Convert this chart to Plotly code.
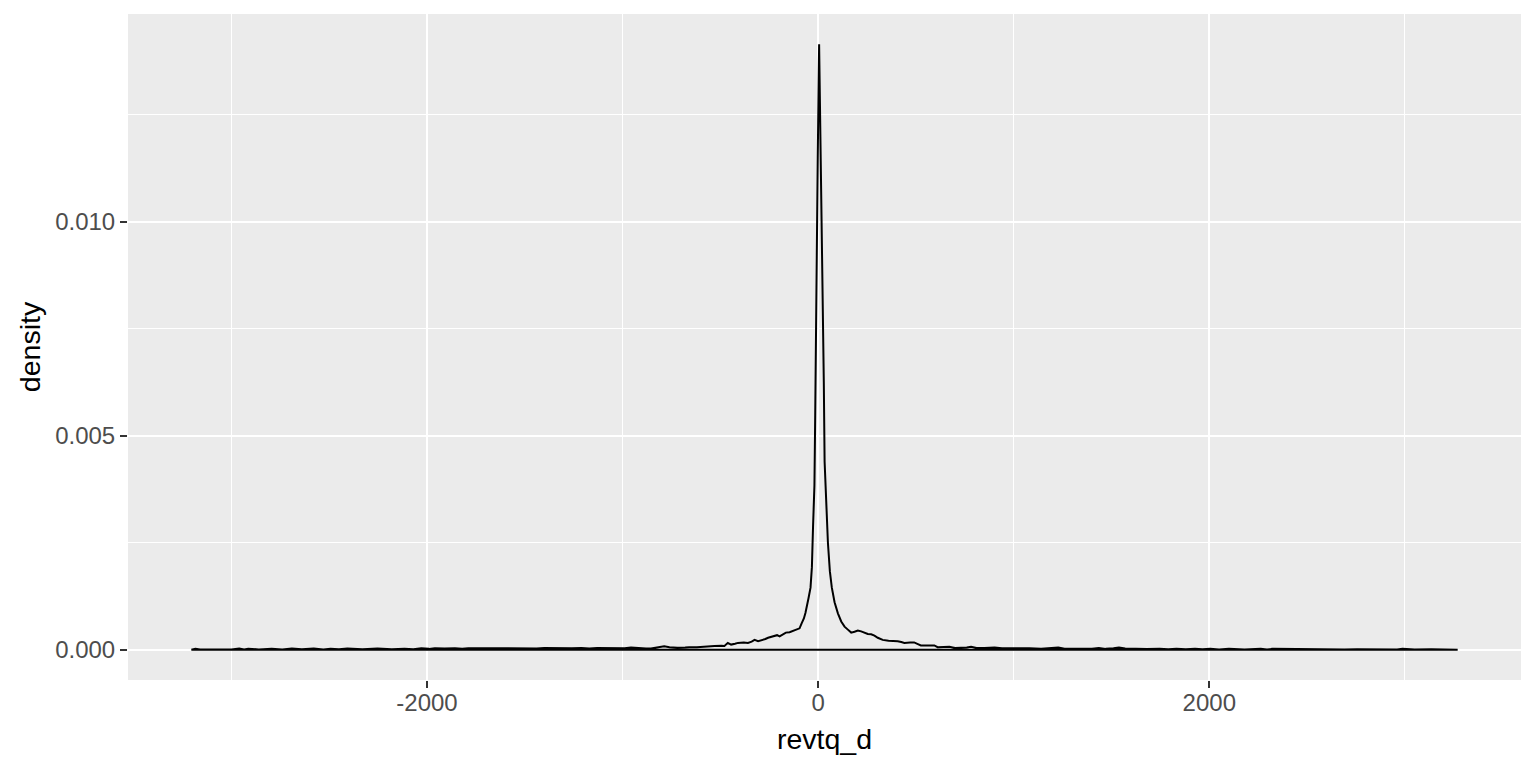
import plotly.graph_objects as go

# Kernel density estimate of revtq_d
revtq_d = [
    -3205, -3184, -3160, -3080, -3000, -2960, -2935, -2914, -2860, -2794,
    -2740, -2691, -2640, -2579, -2530, -2493, -2450, -2407, -2330, -2253,
    -2180, -2115, -2070, -2029, -1990, -1960, -1910, -1857, -1820, -1789,
    -1720, -1680, -1640, -1580, -1540, -1490, -1440, -1400, -1350, -1310,
    -1260, -1210, -1170, -1130, -1090,
    -1059, -1020, -990, -957, -920, -880, -855, -820, -787, -760,
    -720, -680, -659, -620, -599, -560, -530, -495, -479, -462,
    -445, -425, -410, -380, -359, -340, -325, -307, -290, -270,
    -256, -240, -222, -210, -197, -180, -165, -146, -130, -112,
    -95, -85, -73, -65, -59, -53, -49, -39, -32, -26,
    -19, -15, -12, -8, -2, 5, 12, 19, 26, 29,
    33, 39, 45, 50, 60, 70, 84, 101, 118, 135,
    152, 169, 186, 203, 220, 237, 254, 271, 288, 305,
    330, 360, 390, 407, 425, 441, 470, 491, 510, 525,
    560, 594, 611, 640, 671, 700, 731, 760, 782, 810,
    850, 880, 902, 940, 980, 1020, 1080, 1140, 1190, 1228,
    1260, 1330, 1400, 1435, 1470, 1510, 1538, 1570, 1620, 1680,
    1746, 1790, 1832, 1880, 1927, 1965, 2005, 2050, 2100, 2180,
    2263, 2295, 2324, 2367, 2400, 2445, 2510, 2574, 2600, 2626,
    2690, 2755, 2820, 2885, 2910, 2928, 2960, 2988, 3050, 3135,
    3200, 3270,
]

density = [
    0.2e-5, 2.5e-5, 0.8e-5, 0.5e-5, 0.6e-5, 2.6e-5, 0.8e-5, 2.4e-5, 0.6e-5, 2.0e-5,
    0.8e-5, 3.0e-5, 0.9e-5, 2.6e-5, 0.8e-5, 2.2e-5, 1.0e-5, 3.0e-5, 1.2e-5, 2.8e-5,
    1.3e-5, 2.2e-5, 1.2e-5, 3.2e-5, 2.0e-5, 3.4e-5, 2.6e-5, 3.6e-5, 2.4e-5, 3.6e-5,
    3.4e-5, 2.6e-5, 3.8e-5, 3.5e-5, 2.6e-5, 3.8e-5, 3.0e-5, 4.0e-5, 3.2e-5, 4.2e-5,
    3.4e-5, 4.0e-5, 3.0e-5, 4.2e-5, 3.6e-5,
    4e-5, 3e-5, 3.5e-5, 5e-5, 3.5e-5, 3e-5, 3e-5, 5e-5, 8e-5, 6e-5,
    4.5e-5, 5e-5, 6e-5, 6e-5, 7e-5, 8e-5, 9e-5, 9.5e-5, 9e-5, 16e-5,
    12e-5, 14e-5, 16e-5, 17e-5, 16e-5, 19e-5, 23e-5, 20e-5, 22e-5, 25e-5,
    28e-5, 30e-5, 33e-5, 34e-5, 31e-5, 36e-5, 40e-5, 41e-5, 44e-5, 46e-5,
    50e-5, 61e-5, 73e-5, 86e-5, 97e-5, 115e-5, 121e-5, 145e-5, 193e-5, 289e-5,
    384e-5, 548e-5, 710e-5, 880e-5, 1150e-5, 1415e-5, 1211e-5, 1007e-5, 806e-5, 624e-5,
    440e-5, 375e-5, 308e-5, 250e-5, 183e-5, 145e-5, 111e-5, 85e-5, 66e-5, 54e-5,
    47e-5, 40e-5, 42e-5, 45e-5, 43e-5, 40e-5, 37e-5, 36e-5, 33e-5, 28e-5,
    23e-5, 21e-5, 21e-5, 20e-5, 18e-5, 16e-5, 17e-5, 17e-5, 13e-5, 10e-5,
    10e-5, 10e-5, 6e-5, 6e-5, 7e-5, 4e-5, 4e-5, 5e-5, 7e-5, 4e-5,
    4e-5, 5e-5, 5e-5, 3.5e-5, 4e-5, 3e-5, 3.5e-5, 2.5e-5, 3e-5, 5e-5,
    2.5e-5, 2e-5, 2.5e-5, 4e-5, 2e-5, 3.5e-5, 5e-5, 3e-5, 2e-5, 1.5e-5,
    2.5e-5, 1.2e-5, 2.2e-5, 1e-5, 2e-5, 1e-5, 2.2e-5, 0.8e-5, 2e-5, 0.8e-5,
    2e-5, 0.8e-5, 2e-5, 1.8e-5, 0.8e-5, 2e-5, 0.6e-5, 1.2e-5, 0.5e-5, 1.2e-5,
    0.5e-5, 1.2e-5, 0.6e-5, 1.2e-5, 0.6e-5, 1.2e-5, 0.8e-5, 2e-5, 0.6e-5, 1.2e-5,
    0.4e-5, 0.2e-5,
]

x_ticks = [-2000, 0, 2000]
x_tick_labels = ["-2000", "0", "2000"]
x_minor = [-3000, -1000, 1000, 3000]
y_ticks = [0.0, 0.005, 0.010]
y_tick_labels = ["0.000", "0.005", "0.010"]
y_minor = [0.0025, 0.0075, 0.0125]

# closed outline like ggplot's geom_density polygon
poly_x = list(revtq_d) + [revtq_d[-1], revtq_d[0], revtq_d[0]]
poly_y = list(density) + [0.0, 0.0, density[0]]

xmin, xmax = min(revtq_d), max(revtq_d)
xr = xmax - xmin
ymax = max(density)

fig = go.Figure()
fig.add_trace(go.Scatter(
    x=poly_x, y=poly_y, mode="lines",
    line=dict(color="black", width=2),
    hoverinfo="skip", showlegend=False,
))

font_family = "Liberation Sans, Arial, sans-serif"
axis_common = dict(
    showgrid=True, gridcolor="white", gridwidth=2,
    zeroline=False, showline=False,
    ticks="outside", ticklen=7, tickwidth=2, tickcolor="#333333",
    tickfont=dict(family=font_family, size=24, color="#4D4D4D"),
    tickmode="array",
)

# the page body has an 8px margin, so the figure is sized to fit inside it
fig.update_layout(
    width=1520, height=752,
    margin=dict(l=120, r=7, t=6, b=80, autoexpand=False),
    paper_bgcolor="white", plot_bgcolor="#EBEBEB",
    font=dict(family=font_family, color="black"),
    xaxis=dict(
        axis_common,
        range=[xmin - 0.05 * xr, xmax + 0.05 * xr],
        tickvals=x_ticks, ticktext=x_tick_labels,
        ticklabelstandoff=-6,
        minor=dict(tickmode="array", tickvals=x_minor, showgrid=True,
                   gridcolor="white", gridwidth=1, ticks=""),
        title=dict(text="revtq_d", font=dict(size=28.5, color="black"), standoff=14),
        automargin=False,
    ),
    yaxis=dict(
        axis_common,
        range=[-0.05 * ymax, 1.05 * ymax],
        tickvals=y_ticks, ticktext=y_tick_labels,
        minor=dict(tickmode="array", tickvals=y_minor, showgrid=True,
                   gridcolor="white", gridwidth=1, ticks=""),
        title=dict(text="density", font=dict(size=28.5, color="black"), standoff=6),
        automargin=False,
    ),
)

fig.write_html("out.html")
